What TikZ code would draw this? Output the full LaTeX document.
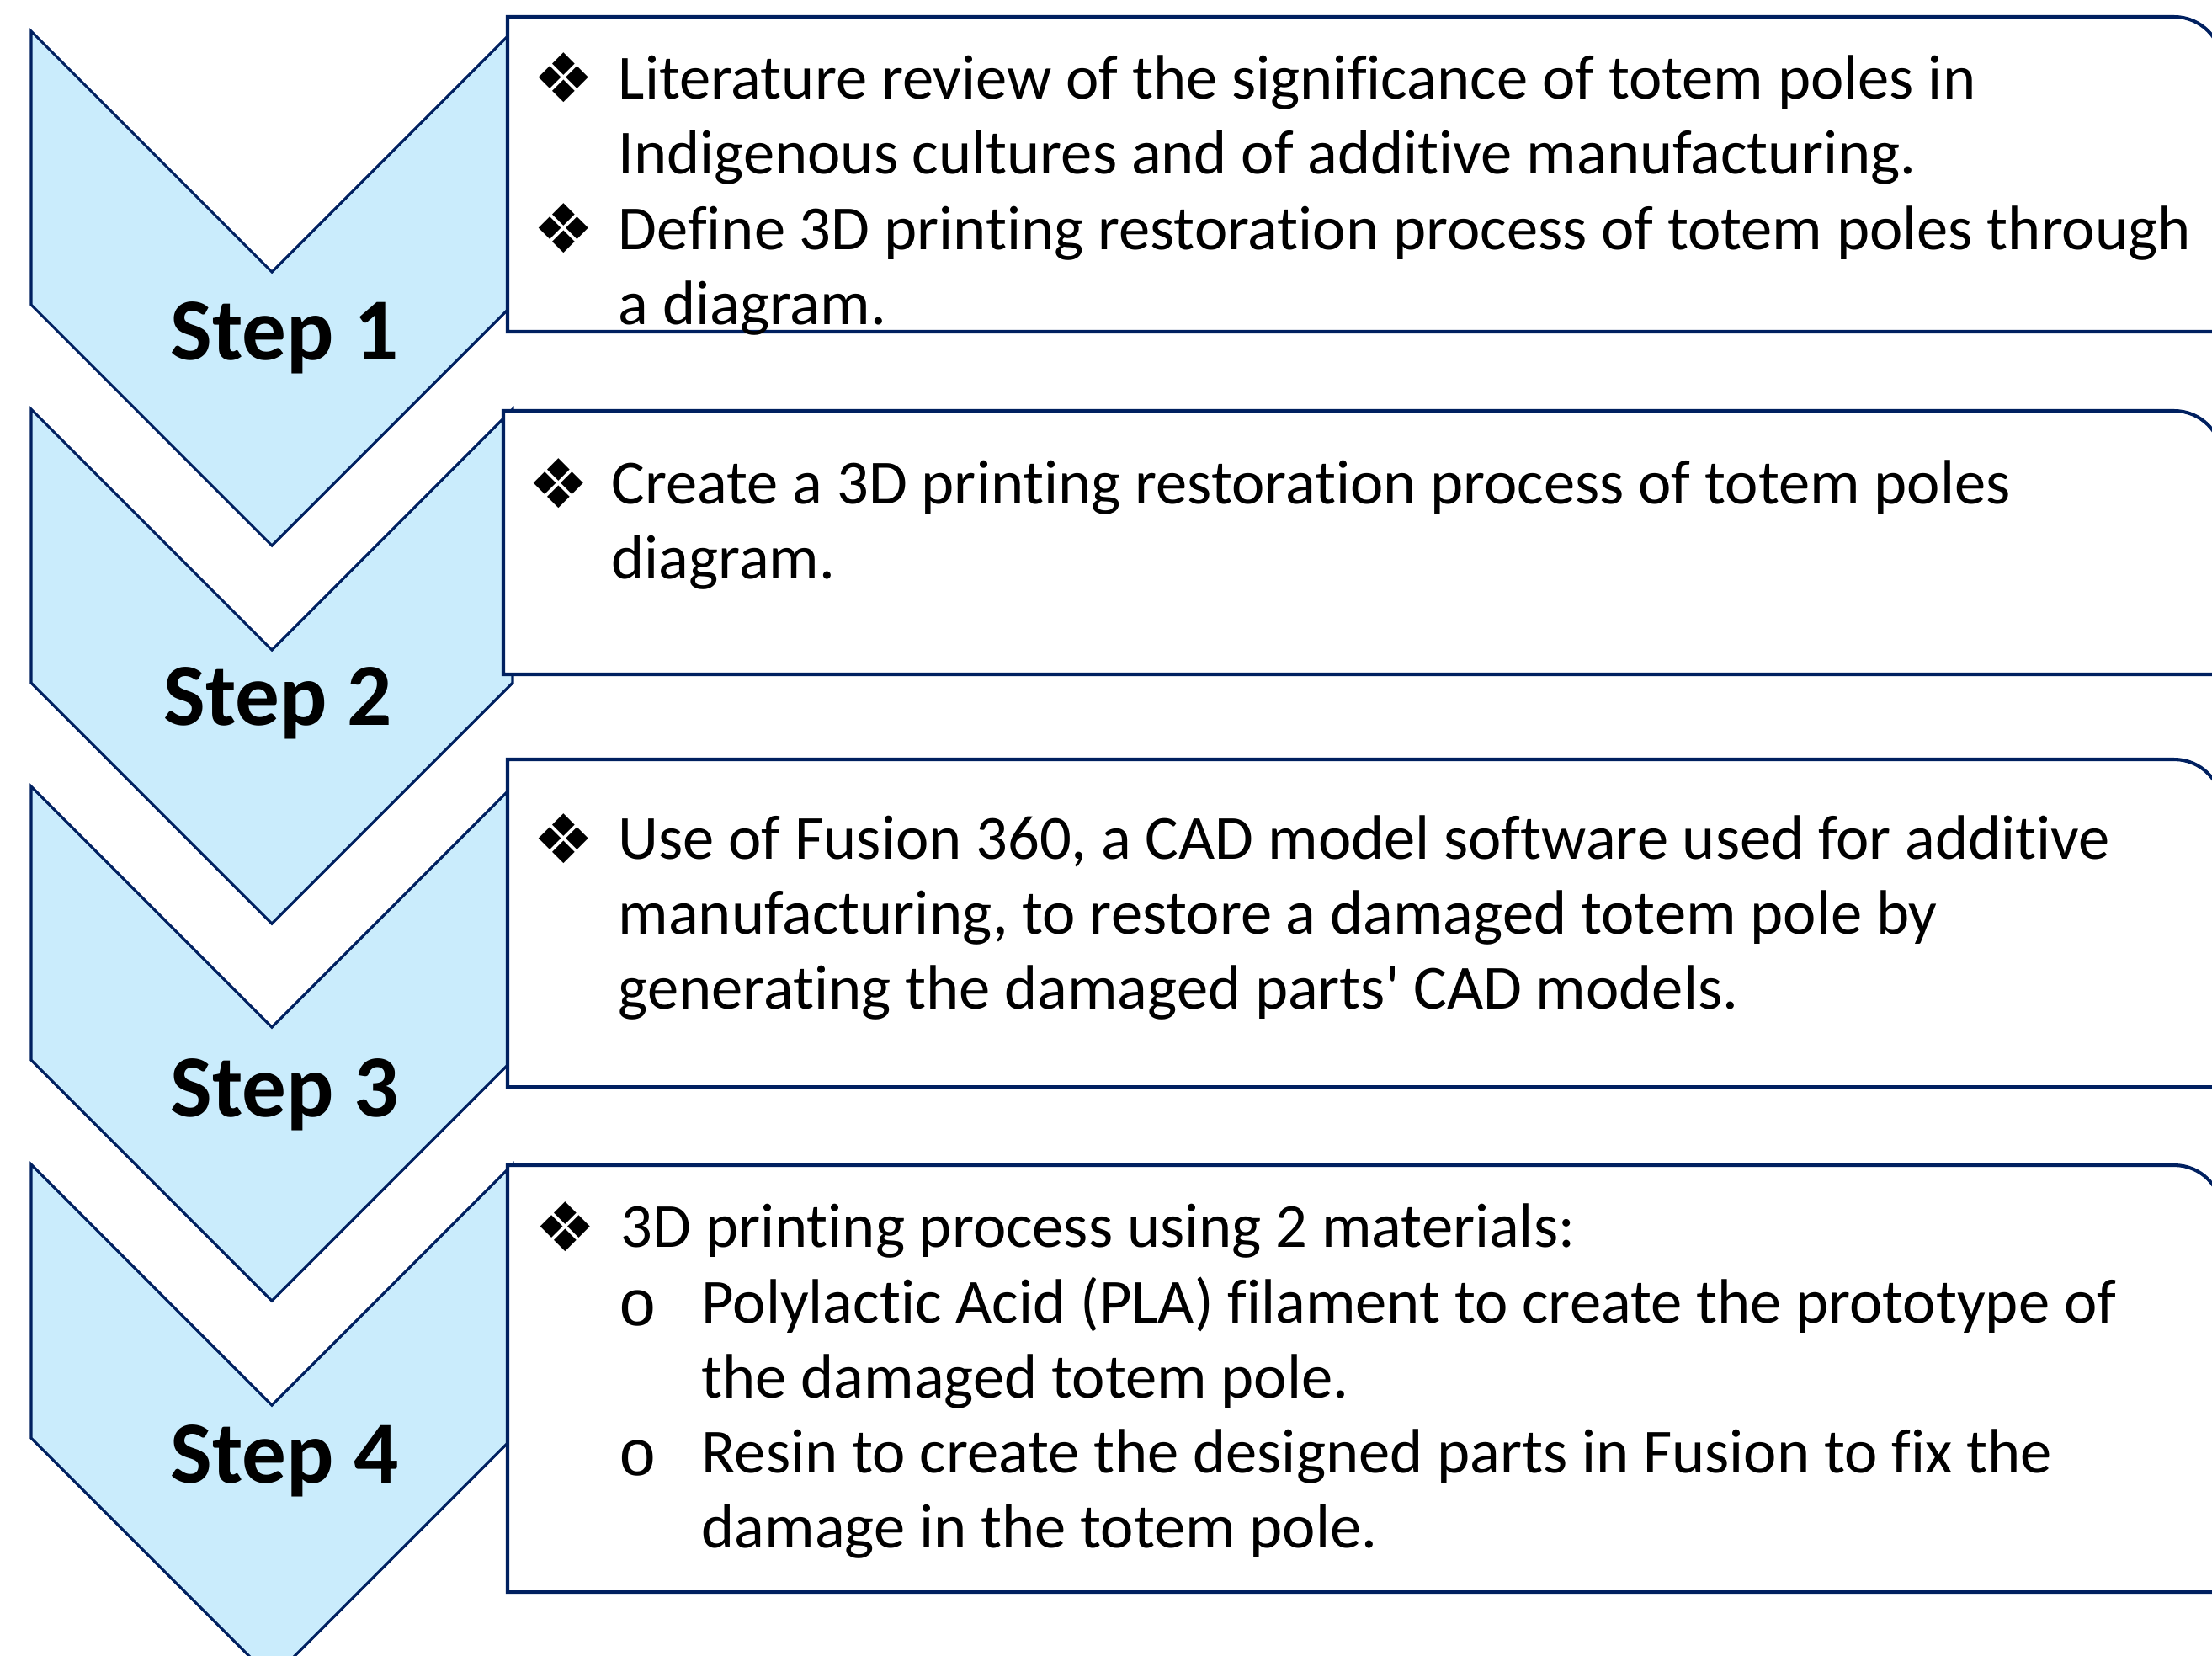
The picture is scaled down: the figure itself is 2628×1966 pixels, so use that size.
\documentclass[tikz,border=0pt]{standalone}
\usepackage{fontspec}
\setmainfont{Carlito}[Ligatures=NoCommon]
\newfontfamily\dingfont{DejaVu Sans}
\newfontfamily\ringfont{Liberation Mono}
\usetikzlibrary{positioning}
\definecolor{navy}{HTML}{002060}
\definecolor{paleblue}{HTML}{CAECFC}

\begin{document}
\begin{tikzpicture}[x=0.01cm,y=-0.01cm,
        chev/.style={draw=navy,fill=paleblue,line width=0.9pt,line join=miter},
        panel/.style={draw=navy,fill=white,line width=1.15pt},
        steplbl/.style={font=\fontsize{29.9}{36}\selectfont\bfseries,inner sep=0pt,anchor=base},
        txt/.style={font=\fontsize{21.2}{25.23}\selectfont,align=left,inner sep=0pt,anchor=base west},
        dia/.style={font=\dingfont\fontsize{23}{26}\selectfont,inner sep=0pt,anchor=center},
        ring/.style={font=\ringfont\fontsize{22}{26}\selectfont,inner sep=0pt,anchor=base}]
        \useasboundingbox (0,0) rectangle (2628,1966);
        \clip (0,0) rectangle (2628,1966);
        % chevrons
        \foreach \t in {37,486,934,1383}
          \draw[chev] (37,\t) -- (323,\t+286) -- (609,\t) -- (609,\t+325)
            -- (323,\t+611) -- (37,\t+325) -- cycle;
        \node[steplbl] (step1) at (338,427) {Step 1};
        \node[steplbl] (step2) at (330,861) {Step 2};
        \node[steplbl] (step3) at (338,1326) {Step 3};
        \node[steplbl] (step4) at (338,1761) {Step 4};
        % panels
        \foreach \l/\t/\b in {603/20/394,598/488/801,603/902/1291,603/1384/1891}
          \draw[panel] (\l,\b) -- (\l,\t) -- (2583,\t)
            .. controls (2614.5,\t) and (2640,\t+25.5) .. (2640,\t+57) -- (2640,\b) -- cycle;
        % text nodes sit on the baseline of their last line
        % step 1
        \node[dia] (b1a) at (670,92) {❖};
        \node[txt] (t1a) at (734,206) {Literature review of the significance of totem poles in\\Indigenous cultures and of additive manufacturing.};
        \node[dia] (b1b) at (670,271) {❖};
        \node[txt] (t1b) at (734,385) {Define 3D printing restoration process of totem poles through\\a diagram.};
        % step 2
        \node[dia] (b2a) at (664,574) {❖};
        \node[txt] (t2a) at (726,687) {Create a 3D printing restoration process of totem poles\\diagram.};
        % step 3
        \node[dia] (b3a) at (670,996) {❖};
        \node[txt] (t3a) at (734,1198) {Use of Fusion 360, a CAD model software used for additive\\manufacturing, to restore a damaged totem pole by\\generating the damaged parts\textquotesingle{} CAD models.};
        % step 4
        \node[dia] (b4a) at (672,1457) {❖};
        \node[txt] (t4a) at (737,1481) {3D printing process using 2 materials:};
        \node[ring] (r4a) at (758,1574) {o};
        \node[txt] (t4b) at (833,1660) {Polylactic Acid (PLA) filament to create the prototype of\\the damaged totem pole.};
        \node[ring] (r4b) at (758,1752) {o};
        \node[txt] (t4c) at (833,1838) {Resin to create the designed parts in Fusion to fix the\\damage in the totem pole.};
      \end{tikzpicture}
\end{document}
